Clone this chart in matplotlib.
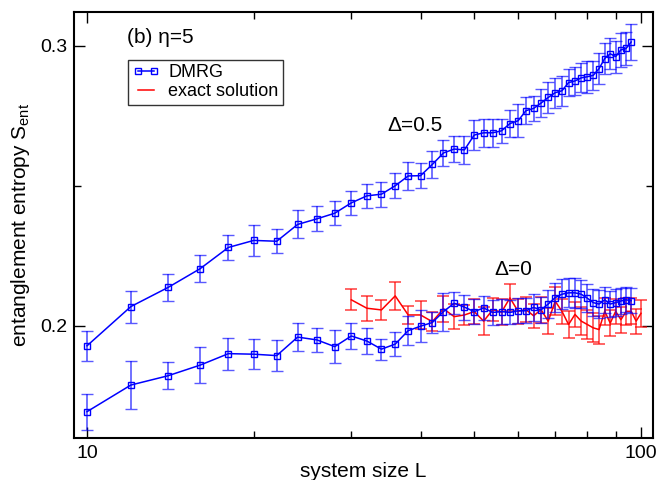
import numpy as np
import matplotlib
matplotlib.use('Agg')
import matplotlib.pyplot as plt
from matplotlib.lines import Line2D
from matplotlib.ticker import FixedLocator, NullFormatter

plt.rcParams['font.family'] = ['Liberation Sans', 'DejaVu Sans']
plt.rcParams['mathtext.fontset'] = 'custom'
plt.rcParams['mathtext.rm'] = 'Liberation Sans'

# system sizes
L_dmrg = np.arange(10, 97, 2)
L_exact = np.arange(30, 101, 2)

# DMRG, Delta=0.5
s_d05 = [0.1929, 0.2069, 0.2137, 0.2204, 0.2280, 0.2305, 0.2302, 0.2362, 0.2382, 0.2402,
         0.2439, 0.2464, 0.2470, 0.2500, 0.2535, 0.2536, 0.2576, 0.2617, 0.2631, 0.2628,
         0.2681, 0.2689, 0.2689, 0.2696, 0.2722, 0.2732, 0.2768, 0.2776, 0.2795, 0.2815,
         0.2832, 0.2839, 0.2868, 0.2874, 0.2885, 0.2889, 0.2894, 0.2918, 0.2954, 0.2971,
         0.2961, 0.2985, 0.2990, 0.3013]
e_d05 = [0.0054, 0.0057, 0.0048, 0.0048, 0.0046, 0.0054, 0.0043, 0.0050, 0.0045, 0.0043,
         0.0042, 0.0043, 0.0045, 0.0045, 0.0050, 0.0045, 0.0048, 0.0046, 0.0045, 0.0049,
         0.0054, 0.0050, 0.0050, 0.0043, 0.0048, 0.0059, 0.0048, 0.0046, 0.0049, 0.0054,
         0.0053, 0.0054, 0.0048, 0.0050, 0.0052, 0.0057, 0.0052, 0.0056, 0.0057, 0.0055,
         0.0057, 0.0060, 0.0059, 0.0064]

# DMRG, Delta=0
s_d0 = [0.1694, 0.1789, 0.1822, 0.1860, 0.1901, 0.1899, 0.1894, 0.1960, 0.1950, 0.1926,
        0.1964, 0.1946, 0.1917, 0.1935, 0.1983, 0.1999, 0.2012, 0.2051, 0.2081, 0.2067,
        0.2051, 0.2064, 0.2048, 0.2051, 0.2048, 0.2054, 0.2054, 0.2066, 0.2057, 0.2078,
        0.2101, 0.2113, 0.2118, 0.2118, 0.2113, 0.2099, 0.2083, 0.2078, 0.2093, 0.2078,
        0.2083, 0.2089, 0.2093, 0.2090]
e_d0 = [0.0064, 0.0084, 0.0048, 0.0064, 0.0057, 0.0054, 0.0054, 0.0051, 0.0044, 0.0058,
        0.0046, 0.0046, 0.0038, 0.0044, 0.0051, 0.0056, 0.0039, 0.0068, 0.0039, 0.0045,
        0.0045, 0.0042, 0.0044, 0.0046, 0.0043, 0.0045, 0.0044, 0.0047, 0.0045, 0.0050,
        0.0052, 0.0054, 0.0052, 0.0053, 0.0050, 0.0051, 0.0049, 0.0050, 0.0046, 0.0048,
        0.0047, 0.0046, 0.0045, 0.0044]

# exact solution, Delta=0
s_ex = [0.2093, 0.2063, 0.2057, 0.2107, 0.2039, 0.2039, 0.2015, 0.2061, 0.2033, 0.2039,
        0.2051, 0.2017, 0.2058, 0.2049, 0.2100, 0.2052, 0.2058, 0.2036, 0.2058, 0.2017,
        0.2088, 0.2052, 0.2005, 0.2041, 0.2017, 0.2005, 0.1993, 0.1987, 0.2052, 0.2010,
        0.2052, 0.2022, 0.2052, 0.2052, 0.2017, 0.2045]
e_ex = [0.0038, 0.0044, 0.0036, 0.0049, 0.0033, 0.0051, 0.0034, 0.0046, 0.0044, 0.0036,
        0.0045, 0.0050, 0.0042, 0.0046, 0.0048, 0.0044, 0.0045, 0.0043, 0.0046, 0.0047,
        0.0050, 0.0044, 0.0048, 0.0045, 0.0049, 0.0050, 0.0052, 0.0050, 0.0048, 0.0047,
        0.0045, 0.0046, 0.0049, 0.0047, 0.0045, 0.0048]

fig = plt.figure(figsize=(6.6, 4.8), dpi=100)
ax = fig.add_axes([0.112, 0.0875, 0.877, 0.8875])

blue = '#0000ff'
red = '#ff0000'

ax.errorbar(L_exact, s_ex, yerr=e_ex, color=red, lw=1.1, elinewidth=1.2,
            capsize=4, capthick=1.2, ecolor=(1, 0, 0, 0.7), zorder=2)
for s, e in [(s_d05, e_d05), (s_d0, e_d0)]:
    ax.errorbar(L_dmrg, s, yerr=e, color=blue, lw=1.1, marker='s', ms=4,
                mfc='none', mec=blue, mew=1.0, elinewidth=1.2, capsize=4,
                capthick=1.2, ecolor=(0, 0, 1, 0.65), zorder=3)

ax.set_xscale('log')
ax.set_xlim(9.47, 105)
ax.set_ylim(0.16, 0.312)
ax.xaxis.set_major_locator(FixedLocator([10, 100]))
ax.xaxis.set_minor_locator(FixedLocator([20, 30, 40, 50, 60, 70, 80, 90]))
ax.xaxis.set_minor_formatter(NullFormatter())
ax.set_xticklabels(['10', '100'])
ax.yaxis.set_major_locator(FixedLocator([0.2, 0.3]))
ax.yaxis.set_minor_locator(FixedLocator([0.25]))
ax.set_yticklabels(['0.2', '0.3'])
ax.tick_params(which='both', direction='in', top=True, right=True, labelsize=14)
ax.tick_params(which='major', length=8, width=1, pad=5)
ax.tick_params(which='minor', length=5, width=1)
for sp in ax.spines.values():
    sp.set_linewidth(1.5)

ax.set_xlabel('system size L', fontsize=15, labelpad=0)
ax.set_ylabel(r'entanglement entropy S$_{\rm ent}$', fontsize=15, labelpad=6)

ax.text(11.8, 0.3029, '(b) η=5', fontsize=15, va='center')
ax.text(34.8, 0.2714, 'Δ=0.5', fontsize=15, va='center')
ax.text(54.3, 0.2200, 'Δ=0', fontsize=15, va='center')

handles = [Line2D([], [], color=blue, lw=1.1, marker='s', ms=4, mfc='none', mec=blue),
           Line2D([], [], color=red, lw=1.1)]
leg = ax.legend(handles, ['DMRG', 'exact solution'],
                loc='upper left', bbox_to_anchor=(0.093, 0.888), fontsize=13,
                numpoints=2, frameon=True, fancybox=False, edgecolor='black',
                borderpad=0.25, handlelength=1.5, handletextpad=0.5,
                labelspacing=0.1, borderaxespad=0)
leg.get_frame().set_linewidth(1.0)

fig.savefig('out.png', dpi=100)
